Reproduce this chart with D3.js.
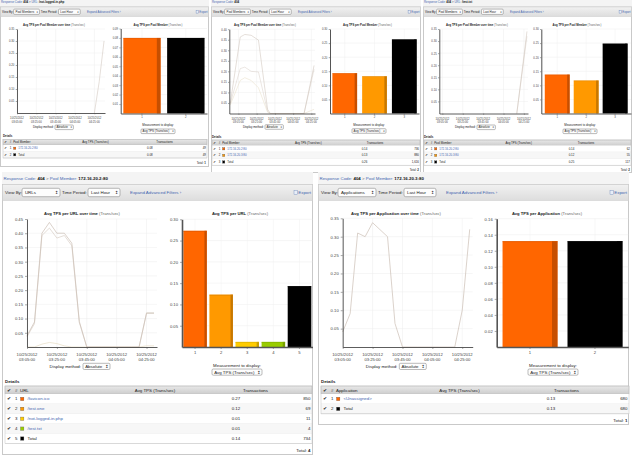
<!DOCTYPE html>
<html>
<head>
<style>
  body { margin: 0; background: #fff; }
  svg { display: block; font-family: 'Liberation Sans', Arial, sans-serif; }
</style>
</head>
<body>
<svg id="svgVis"></svg>
<script src="https://cdnjs.cloudflare.com/ajax/libs/d3/7.8.5/d3.min.js"></script>
<script>

// ---- bottom left: URLs for pool member 172.16.20.2:80
var urlNames = ["/favicon.ico", "/test.one", "/not-logged-in.php", "/test.txt", "Total"];
var urlColors = ["#ff6600", "#ff9900", "#ffcc00", "#99cc00", "#000000"];
var urlAvgTps = [0.273, 0.123, 0.012, 0.012, 0.143];
var urlTransactions = ["850", "69", "11", "4", "734"];
var urlTimes = ["03:05","03:10","03:15","03:20","03:25","03:30","03:35","03:40","03:45",
                "03:50","03:55","04:00","04:05","04:10","04:15","04:20","04:25","04:30"];
var urlTpsFavicon = [0.040,0.088,0.400,0.438,0.400,0.400,0.365,0.090,0,0,0,0,0,0,0,0,0.120,0.120];
var urlTpsTotal   = [0.036,0.082,0.392,0.418,0.383,0.392,0.356,0.086,0,0,0,0,0,0,0,0,0.118,0.118];
var urlTpsOther   = [0,0,0.010,0.016,0.012,0.004,0,0,0,0,0,0,0,0,0,0,0.004,0.004];
var urlTpsTicks = [0.05,0.10,0.15,0.20,0.25,0.30,0.35,0.40,0.45];
var urlBarTicks = [0.05,0.10,0.15,0.20,0.25,0.30];

// ---- bottom right: applications for pool member 172.16.20.3:80
var appNames = ["<Unassigned>", "Total"];
var appColors = ["#ff6600", "#000000"];
var appAvgTps = [0.132, 0.132];
var appTransactions = ["680", "680"];
var appTimes = urlTimes;
var appTps = [0.041,0.091,0.310,0.300,0.338,0.319,0.300,0.064,0,0,0,0,0,0,0,0,0.100,0.320];
var appTpsTicks = [0.05,0.10,0.15,0.20,0.25,0.30,0.35];
var appBarTicks = [0.02,0.04,0.06,0.08,0.10,0.12,0.14,0.16];

// shared time axis labels
var timeTicks = ["03:05","03:25","03:45","04:05","04:25"];
var dateLabel = "10/25/2012";

// ---- top row: pool members for single URLs
var poolANames = ["172.16.20.2:80", "Total"];
var poolAColors = ["#ff6600", "#000000"];
var poolAAvgTps = [0.08, 0.08];
var poolATransactions = ["49", "49"];
var poolATimes = ["04:25","04:30","04:35"];
var poolATps = [0, 0.13, 0.30];
var poolATpsTicks = [0.05,0.10,0.15,0.20,0.25,0.30,0.35];
var poolABarTicks = [0.01,0.02,0.03,0.04,0.05,0.06,0.07,0.08,0.09];

var poolBNames = ["172.16.20.2:80", "172.16.20.3:80", "Total"];
var poolBColors = ["#ff6600", "#ff9900", "#000000"];
var poolBAvgTps = [0.143, 0.132, 0.263];
var poolBTransactions = ["736", "880", "1,616"];
var poolBTimes = ["02:56","03:07","03:12","03:19","03:27","03:37","03:40","04:17","04:28"];
var poolBTpsTotal  = [0.047,0.363,0.375,0.371,0.348,0.020,0,0,0.228];
var poolBTpsFirst  = [0.047,0.213,0.220,0.200,0.197,0.010,0,0,0.210];
var poolBTpsSecond = [0.040,0.157,0.170,0.157,0.122,0.006,0,0,0.020];
var poolBTpsTicks = [0.05,0.10,0.15,0.20,0.25,0.30,0.35,0.40];
var poolBBarTicks = [0.05,0.10,0.15,0.20,0.25,0.30];

var poolCNames = ["172.16.20.2:80", "172.16.20.3:80", "Total"];
var poolCColors = ["#ff6600", "#ff9900", "#000000"];
var poolCAvgTps = [0.138, 0.117, 0.248];
var poolCTransactions = ["62", "55", "117"];
var poolCTimes = ["04:18","04:28"];
var poolCTpsTotal = [0, 0.34];
var poolCTpsFirst = [0, 0.32];
var poolCTpsTicks = [0.05,0.10,0.15,0.20,0.25,0.30,0.35];
var poolCBarTicks = [0.05,0.10,0.15,0.20,0.25,0.30];


var LINK = "#4466b0";
var INK = "#222";
var parseTime = d3.timeParse("%H:%M");
var fmt2 = d3.format(".2f");
var fmtClock = d3.timeFormat("%H:%M:%S");

var svg = d3.select("#svgVis").attr("width", 632).attr("height", 458);
svg.append("rect").attr("width", 632).attr("height", 458).attr("fill", "#fff");

var defs = svg.append("defs");
function grad(id, c1, c2) {
  var lg = defs.append("linearGradient").attr("id", id)
    .attr("x1", 0).attr("y1", 0).attr("x2", 0).attr("y2", 1);
  lg.append("stop").attr("offset", "0%").attr("stop-color", c1);
  lg.append("stop").attr("offset", "100%").attr("stop-color", c2);
}
grad("toolGrad", "#f1f1f1", "#dddddd");
grad("headGrad", "#e8e8e8", "#cdcdcd");


function styleAxis(sel, fs) {
  sel.attr("font-size", fs).attr("font-family", null);
  sel.select(".domain").attr("stroke", "#333").attr("stroke-width", 0.8);
  sel.selectAll(".tick line").attr("stroke", "#555").attr("stroke-width", 0.5);
  sel.selectAll(".tick text").attr("fill", "#444");
}

function drawSelect(g, x, y, w, h, fs, label) {
  g.append("rect").attr("x", x).attr("y", y).attr("width", w).attr("height", h)
    .attr("rx", h * 0.2).attr("fill", "#fdfdfd").attr("stroke", "#777").attr("stroke-width", 0.5);
  g.append("text").attr("x", x + h * 0.35).attr("y", y + h / 2 + fs * 0.35)
    .attr("font-size", fs).attr("fill", INK).text(label);
  g.append("text").attr("x", x + w - h * 0.2).attr("y", y + h / 2 + fs * 0.35)
    .attr("text-anchor", "end").attr("font-size", fs).attr("fill", INK)
    .attr("font-family", "DejaVu Sans").text("\u2195");
}

function drawTitle(g, x, y, fs, title) {
  var t = g.append("text").attr("x", x).attr("y", y).attr("text-anchor", "middle").attr("font-size", fs * 0.95);
  t.append("tspan").attr("font-weight", "bold").attr("fill", INK).text(title + " ");
  t.append("tspan").attr("fill", "#666").text("(Trans/sec)");
}

function drawLineChart(g, c, fs) {
  var x = d3.scaleTime().domain([parseTime(c.start), parseTime(c.end)]).range([c.l, c.r]);
  var y = d3.scaleLinear().domain([0, c.ymax]).range([c.b, c.t]);
  var tickTimes = c.xTicks.map(parseTime);

  g.append("g").selectAll("line").data(c.yTicks).join("line")
    .attr("x1", c.l).attr("x2", c.r)
    .attr("y1", function(d) { return y(d); }).attr("y2", function(d) { return y(d); })
    .attr("stroke", "#ededed").attr("stroke-width", 0.5);
  g.append("g").selectAll("line").data(tickTimes).join("line")
    .attr("x1", function(d) { return x(d); }).attr("x2", function(d) { return x(d); })
    .attr("y1", c.t).attr("y2", c.b)
    .attr("stroke", "#ededed").attr("stroke-width", 0.5);

  var line = d3.line().x(function(d) { return x(d.t); }).y(function(d) { return y(d.v); });
  c.series.forEach(function(s) {
    var pts = c.times.map(function(t, i) { return { t: parseTime(t), v: s.values[i] }; });
    g.append("path").datum(pts).attr("d", line)
      .attr("fill", "none").attr("stroke", s.color).attr("stroke-width", c.lw);
  });

  var ya = g.append("g").attr("transform", "translate(" + c.l + ",0)")
    .call(d3.axisLeft(y).tickValues(c.yTicks).tickFormat(fmt2)
      .tickSize(c.tick).tickSizeOuter(0).tickPadding(c.tick));
  styleAxis(ya, fs * 0.95);

  var xa = g.append("g").attr("transform", "translate(0," + c.b + ")")
    .call(d3.axisBottom(x).tickValues(tickTimes).tickFormat("").tickSize(c.tick).tickSizeOuter(0));
  styleAxis(xa, fs);

  var lab = g.append("g").selectAll("text").data(tickTimes).join("text")
    .attr("y", c.b + 2 + fs * 1.5).attr("text-anchor", "middle")
    .attr("font-size", fs * 0.95).attr("fill", "#444");
  lab.append("tspan").attr("x", function(d) { return x(d); }).text(dateLabel);
  lab.append("tspan").attr("x", function(d) { return x(d); }).attr("dy", fs * 1.15)
    .text(function(d) { return fmtClock(d); });

  drawTitle(g, c.titleX, c.titleY, fs, c.title);
}

function drawBarChart(g, c, fs) {
  var labels = c.values.map(function(d, i) { return String(i + 1); });
  var x = d3.scaleBand().domain(labels).range([c.l, c.r]).paddingInner(c.pi).paddingOuter(c.po);
  var y = d3.scaleLinear().domain([0, c.ymax]).range([c.b, c.t]);
  var bw = x.bandwidth();

  g.append("g").selectAll("line").data(c.yTicks).join("line")
    .attr("x1", c.l).attr("x2", c.r)
    .attr("y1", function(d) { return y(d); }).attr("y2", function(d) { return y(d); })
    .attr("stroke", "#ececec").attr("stroke-width", 0.5);
  g.append("g").selectAll("line").data(labels).join("line")
    .attr("x1", function(d) { return x(d) + bw / 2; }).attr("x2", function(d) { return x(d) + bw / 2; })
    .attr("y1", c.t).attr("y2", c.b)
    .attr("stroke", "#f0f0f0").attr("stroke-width", 0.5);

  var bars = g.append("g").selectAll("g").data(c.values).join("g");
  bars.append("rect")
    .attr("x", function(d, i) { return x(labels[i]); })
    .attr("y", function(d) { return y(d); })
    .attr("width", bw)
    .attr("height", function(d) { return c.b - y(d); })
    .attr("fill", function(d, i) { return c.colors[i]; });
  bars.append("rect")
    .attr("x", function(d, i) { return x(labels[i]) + bw * 0.9; })
    .attr("y", function(d) { return y(d); })
    .attr("width", bw * 0.1)
    .attr("height", function(d) { return c.b - y(d); })
    .attr("fill", function(d, i) { return d3.color(c.colors[i]).darker(0.9); })
    .attr("opacity", 0.8);
  bars.append("rect")
    .attr("x", function(d, i) { return x(labels[i]); })
    .attr("y", function(d) { return y(d); })
    .attr("width", bw)
    .attr("height", c.tick * 0.5)
    .attr("fill", function(d, i) { return d3.color(c.colors[i]).darker(0.5); })
    .attr("opacity", 0.6);

  var ya = g.append("g").attr("transform", "translate(" + c.l + ",0)")
    .call(d3.axisLeft(y).tickValues(c.yTicks).tickFormat(fmt2)
      .tickSize(c.tick).tickSizeOuter(0).tickPadding(c.tick));
  styleAxis(ya, fs * 0.95);
  ya.select(".domain").attr("stroke", "#555").attr("stroke-width", c.tick * 0.8);

  var xa = g.append("g").attr("transform", "translate(0," + c.b + ")")
    .call(d3.axisBottom(x).tickSize(c.tick).tickSizeOuter(0).tickPadding(c.tick));
  styleAxis(xa, fs * 0.95);
  xa.select(".domain").attr("stroke", "#555").attr("stroke-width", c.tick * 0.8);

  drawTitle(g, c.titleX, c.titleY, fs, c.title);
}

function drawTable(g, t, fs, k) {
  var n = t.names.length;
  var right = t.x + t.w;
  var hy = t.top + t.headH / 2 + fs * 0.35;

  g.append("rect").attr("x", t.x).attr("y", t.top).attr("width", t.w).attr("height", t.headH)
    .attr("fill", "url(#headGrad)").attr("stroke", "#b8b8b8").attr("stroke-width", 0.5);
  g.append("text").attr("x", t.x + 2 * k).attr("y", hy).attr("font-size", fs * 1.1)
    .attr("font-family", "DejaVu Sans").attr("fill", INK).text("\u2714");
  g.append("text").attr("x", t.x + 10 * k).attr("y", hy).attr("font-size", fs).attr("fill", INK).text("#");
  g.append("text").attr("x", t.x + 15 * k).attr("y", hy).attr("font-size", fs).attr("fill", INK).text(t.nameHeader);
  g.append("text").attr("x", t.x + t.avgHead).attr("y", hy).attr("text-anchor", "middle")
    .attr("font-size", fs).attr("fill", INK).text("Avg TPS (Trans/sec)");
  g.append("text").attr("x", t.x + t.transHead).attr("y", hy).attr("text-anchor", "middle")
    .attr("font-size", fs).attr("fill", INK).text("Transactions");

  var rows = g.append("g").selectAll("g").data(t.names).join("g")
    .attr("transform", function(d, i) { return "translate(0," + (t.top + t.headH + t.rowH * i) + ")"; });
  rows.append("rect").attr("x", t.x).attr("width", t.w).attr("height", t.rowH)
    .attr("fill", function(d, i) { return i % 2 ? "#f7f7f7" : "#fff"; });
  rows.append("line").attr("x1", t.x).attr("x2", right).attr("y1", t.rowH).attr("y2", t.rowH)
    .attr("stroke", "#dedede").attr("stroke-width", 0.5);
  var ty = t.rowH / 2 + fs * 0.35;
  rows.append("text").attr("x", t.x + 2 * k).attr("y", ty).attr("font-size", fs * 1.1)
    .attr("font-family", "DejaVu Sans").attr("fill", INK).text("\u2714");
  rows.append("text").attr("x", t.x + 10 * k).attr("y", ty).attr("font-size", fs).attr("fill", INK)
    .text(function(d, i) { return i + 1; });
  rows.append("rect").attr("x", t.x + 15.5 * k).attr("y", t.rowH / 2 - 1.7 * k)
    .attr("width", 3.4 * k).attr("height", 3.4 * k)
    .attr("fill", function(d, i) { return t.colors[i]; })
    .attr("stroke", "#555").attr("stroke-width", 0.3);
  rows.append("text").attr("x", t.x + 22.5 * k).attr("y", ty).attr("font-size", fs)
    .attr("fill", function(d, i) { return i < n - 1 ? LINK : INK; })
    .text(function(d) { return d; });
  rows.append("text").attr("x", t.x + t.avgVal).attr("y", ty).attr("font-size", fs).attr("fill", INK)
    .text(function(d, i) { return fmt2(t.avg[i]); });
  rows.append("text").attr("x", right - 1.5 * k).attr("y", ty).attr("text-anchor", "end")
    .attr("font-size", fs).attr("fill", INK)
    .text(function(d, i) { return t.trans[i]; });

  g.append("rect").attr("x", t.x).attr("y", t.top).attr("width", t.w).attr("height", t.headH + t.rowH * n)
    .attr("fill", "none").attr("stroke", "#c4c4c4").attr("stroke-width", 0.5);

  var tot = g.append("text").attr("x", right - 1.5 * k).attr("y", t.totalY).attr("text-anchor", "end")
    .attr("font-size", fs).attr("fill", INK);
  tot.append("tspan").text("Total: ");
  tot.append("tspan").attr("font-weight", "bold").text(n - 1);
}

function drawPanel(p) {
  var g = svg.append("g");
  var k = p.k, fs = p.fs;

  g.append("rect").attr("x", p.x).attr("y", p.top).attr("width", p.w).attr("height", p.toolTop - p.top)
    .attr("fill", "#f4f4f4");
  var head = g.append("text").attr("x", p.x + 1.5 * k).attr("y", p.headerY).attr("font-size", fs);
  p.header.forEach(function(part) {
    head.append("tspan").text(part[0])
      .attr("fill", part[1] === "link" ? LINK : (part[1] === "bold" ? "#111" : "#666"))
      .attr("font-weight", part[1] === "bold" ? "bold" : "normal");
  });

  g.append("rect").attr("x", p.x + 0.5).attr("y", p.toolTop + 0.5)
    .attr("width", p.w - 1).attr("height", p.bottom - p.toolTop - 1)
    .attr("fill", "#fff").attr("stroke", "#c9c9c9").attr("stroke-width", 1);
  g.append("rect").attr("x", p.x + 0.5).attr("y", p.toolTop + 0.5)
    .attr("width", p.w - 1).attr("height", p.toolBot - p.toolTop)
    .attr("fill", "url(#toolGrad)").attr("stroke", "#c9c9c9").attr("stroke-width", 0.5);

  // toolbar
  var mid = (p.toolTop + p.toolBot) / 2 + 0.5;
  var by = mid + fs * 0.35;
  g.append("text").attr("x", p.x + 3 * k).attr("y", by).attr("font-size", fs).attr("fill", INK).text("View By:");
  drawSelect(g, p.x + 20 * k, mid - p.selH / 2, 38 * k, p.selH, fs, p.viewBy);
  g.append("text").attr("x", p.x + 60 * k).attr("y", by).attr("font-size", fs).attr("fill", INK).text("Time Period:");
  drawSelect(g, p.x + 86 * k, mid - p.selH / 2, 32 * k, p.selH, fs, "Last Hour");
  g.append("text").attr("x", p.x + 128 * k).attr("y", by).attr("font-size", fs).attr("fill", LINK)
    .text("Expand Advanced Filters \u203A");
  g.append("rect").attr("x", p.x + p.w - 19 * k).attr("y", mid - 2.2 * k).attr("width", 3.2 * k).attr("height", 4.2 * k)
    .attr("fill", "#e8eef8").attr("stroke", "#6a86b8").attr("stroke-width", 0.4);
  g.append("text").attr("x", p.x + p.w - 2 * k).attr("y", by).attr("text-anchor", "end")
    .attr("font-size", fs).attr("fill", LINK).text("Export");

  drawLineChart(g, p.line, fs);
  drawBarChart(g, p.bar, fs);

  // controls under the charts
  var dy = p.dispY + p.dispH / 2 + fs * 0.35;
  g.append("text").attr("x", p.dispX - 2 * k).attr("y", dy).attr("text-anchor", "end")
    .attr("font-size", fs).attr("fill", INK).text("Display method:");
  drawSelect(g, p.dispX, p.dispY, 27 * k, p.dispH, fs, "Absolute");
  g.append("text").attr("x", p.measX).attr("y", p.measLabelY).attr("text-anchor", "middle")
    .attr("font-size", fs).attr("fill", INK).text("Measurement to display:");
  drawSelect(g, p.measX - 25 * k, p.measSelY, 50 * k, p.dispH, fs, "Avg TPS (Trans/sec)");

  g.append("text").attr("x", p.table.x).attr("y", p.detailsY).attr("font-size", fs)
    .attr("font-weight", "bold").attr("fill", INK).text("Details");
  drawTable(g, p.table, fs, k);
}

function header(kind, value) {
  var parts = [["Response Code: ", "link"], ["404", "bold"]];
  if (kind) parts.push([" > ", "plain"], [kind + ": ", "link"], [value, "bold"]);
  return parts;
}

var paleA = "#cbbfb5", paleB = "#d9cfc6", paleC = "#e6dcc4";

var panels = [
  { // top left
    x: 0, top: 0, w: 209, toolTop: 6.5, toolBot: 16, bottom: 167, k: 0.68, fs: 2.9, selH: 5.3, headerY: 3.4,
    header: header("URL", "/not-logged-in.php"), viewBy: "Pool Members",
    line: { l: 17, r: 105, t: 29, b: 113, start: "03:05", end: "04:36", ymax: 0.35,
      yTicks: poolATpsTicks, xTicks: timeTicks, times: poolATimes,
      series: [{ values: poolATps, color: paleA }],
      title: "Avg TPS per Pool Member over time", titleX: 54, titleY: 26, tick: 1.3, lw: 0.5 },
    bar: { l: 120.7, r: 207, t: 28.5, b: 113.5, ymax: 0.09, yTicks: poolABarTicks,
      values: poolAAvgTps, colors: poolAColors, pi: 0.15, po: 0.06,
      title: "Avg TPS per Pool Member", titleX: 158, titleY: 26, tick: 1.3 },
    dispX: 55, dispY: 125, dispH: 4.6, measX: 158, measLabelY: 125.5, measSelY: 129,
    detailsY: 137.2,
    table: { x: 3, w: 204, top: 139.5, headH: 5.5, rowH: 6.5, nameHeader: "Pool Member",
      names: poolANames, colors: poolAColors, avg: poolAAvgTps, trans: poolATransactions,
      avgHead: 92.5, avgVal: 144, transHead: 161.5, totalY: 164.2 }
  },
  { // top middle
    x: 211, top: 0, w: 210, toolTop: 6.5, toolBot: 16, bottom: 173, k: 0.68, fs: 2.9, selH: 5.3, headerY: 3.4,
    header: header(null), viewBy: "Pool Members",
    line: { l: 229.3, r: 315, t: 29.2, b: 113.5, start: "02:55", end: "04:29", ymax: 0.40,
      yTicks: poolBTpsTicks, xTicks: timeTicks, times: poolBTimes,
      series: [{ values: poolBTpsSecond, color: paleC }, { values: poolBTpsFirst, color: paleB },
               { values: poolBTpsTotal, color: paleA }],
      title: "Avg TPS per Pool Member over time", titleX: 265, titleY: 26, tick: 1.3, lw: 0.5 },
    bar: { l: 330, r: 419, t: 29, b: 113.5, ymax: 0.30, yTicks: poolBBarTicks,
      values: poolBAvgTps, colors: poolBColors, pi: 0.17, po: 0.08,
      title: "Avg TPS per Pool Member", titleX: 367.5, titleY: 26, tick: 1.3 },
    dispX: 265, dispY: 124.7, dispH: 4.6, measX: 369, measLabelY: 126.3, measSelY: 128.7,
    detailsY: 137.8,
    table: { x: 212, w: 208, top: 140, headH: 5.5, rowH: 6.6, nameHeader: "Pool Member",
      names: poolBNames, colors: poolBColors, avg: poolBAvgTps, trans: poolBTransactions,
      avgHead: 96.3, avgVal: 149.7, transHead: 163, totalY: 170.5 }
  },
  { // top right
    x: 423, top: 0, w: 209, toolTop: 6.5, toolBot: 16, bottom: 173, k: 0.68, fs: 2.9, selH: 5.3, headerY: 3.4,
    header: header("URL", "/test.txt"), viewBy: "Pool Members",
    line: { l: 439.3, r: 528, t: 29, b: 113.5, start: "03:02", end: "04:29", ymax: 0.35,
      yTicks: poolCTpsTicks, xTicks: timeTicks, times: poolCTimes,
      series: [{ values: poolCTpsFirst, color: paleB }, { values: poolCTpsTotal, color: paleA }],
      title: "Avg TPS per Pool Member over time", titleX: 477, titleY: 26, tick: 1.3, lw: 0.5 },
    bar: { l: 541.3, r: 631, t: 29, b: 113.5, ymax: 0.30, yTicks: poolCBarTicks,
      values: poolCAvgTps, colors: poolCColors, pi: 0.14, po: 0.12,
      title: "Avg TPS per Pool Member", titleX: 577, titleY: 26, tick: 1.3 },
    dispX: 477, dispY: 125, dispH: 4.6, measX: 580, measLabelY: 126.3, measSelY: 129,
    detailsY: 137.8,
    table: { x: 424, w: 207, top: 140, headH: 5.5, rowH: 6.6, nameHeader: "Pool Member",
      names: poolCNames, colors: poolCColors, avg: poolCAvgTps, trans: poolCTransactions,
      avgHead: 94.7, avgVal: 144.7, transHead: 162, totalY: 170.5 }
  },
  { // bottom left
    x: 2, top: 172, w: 311, toolTop: 184, toolBot: 200, bottom: 455, k: 1, fs: 4.4, selH: 8.4, headerY: 179.5,
    header: header("Pool Member", "172.16.20.2:80"), viewBy: "URLs",
    line: { l: 27, r: 157, t: 219, b: 347, start: "03:05", end: "04:32", ymax: 0.45,
      yTicks: urlTpsTicks, xTicks: timeTicks, times: urlTimes,
      series: [{ values: urlTpsOther, color: paleC }, { values: urlTpsTotal, color: paleB },
               { values: urlTpsFavicon, color: paleA }],
      title: "Avg TPS per URL over time", titleX: 82, titleY: 214.5, tick: 2, lw: 0.7 },
    bar: { l: 182, r: 312.5, t: 219.3, b: 347, ymax: 0.30, yTicks: urlBarTicks,
      values: urlAvgTps, colors: urlColors, pi: 0.1, po: 0.05,
      title: "Avg TPS per URL", titleX: 240, titleY: 214.5, tick: 2 },
    dispX: 83, dispY: 363.3, dispH: 6.2, measX: 237, measLabelY: 366.5, measSelY: 369,
    detailsY: 382.5,
    table: { x: 5, w: 307, top: 386, headH: 8, rowH: 9.9, nameHeader: "URL",
      names: urlNames, colors: urlColors, avg: urlAvgTps, trans: urlTransactions,
      avgHead: 150, avgVal: 226.7, transHead: 250.5, totalY: 451.5 }
  },
  { // bottom right
    x: 318, top: 172, w: 311, toolTop: 184, toolBot: 200, bottom: 425, k: 1, fs: 4.4, selH: 8.4, headerY: 179.5,
    header: header("Pool Member", "172.16.20.3:80"), viewBy: "Applications",
    line: { l: 342.7, r: 472.7, t: 218.3, b: 347, start: "03:05", end: "04:32", ymax: 0.35,
      yTicks: appTpsTicks, xTicks: timeTicks, times: appTimes,
      series: [{ values: appTps, color: paleA }],
      title: "Avg TPS per Application over time", titleX: 396, titleY: 214.5, tick: 2, lw: 0.7 },
    bar: { l: 496.7, r: 628.3, t: 218.7, b: 347, ymax: 0.16, yTicks: appBarTicks,
      values: appAvgTps, colors: appColors, pi: 0.154, po: 0.09,
      title: "Avg TPS per Application", titleX: 547, titleY: 214.5, tick: 2 },
    dispX: 399.3, dispY: 363.3, dispH: 6.2, measX: 553, measLabelY: 366.5, measSelY: 369,
    detailsY: 382.5,
    table: { x: 321, w: 308, top: 386, headH: 8, rowH: 9.9, nameHeader: "Application",
      names: appNames, colors: appColors, avg: appAvgTps, trans: appTransactions,
      avgHead: 138.5, avgVal: 225.7, transHead: 245.5, totalY: 421.5 }
  }
];

panels.forEach(drawPanel);

</script>
</body>
</html>
